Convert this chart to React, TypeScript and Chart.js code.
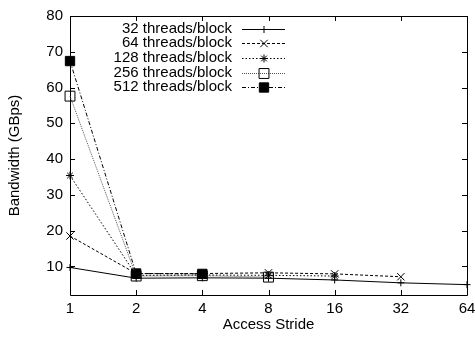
import React, { useEffect, useRef } from "react";
import { Chart, registerables } from "chart.js";

Chart.register(...registerables);

const strides = ["1", "2", "4", "8", "16", "32", "64"];
const t32 = [9.7, 6.7, 6.8, 6.7, 6.2, 5.4, 4.9];
const t64 = [18.5, 8.0, 8.0, 8.2, 7.9, 7.1, null];
const t128 = [35.4, 7.5, 7.6, 7.5, 7.3, null, null];
const t256 = [57.6, 7.3, 7.4, 7.0, null, null, null];
const t512 = [67.4, 8.0, 7.9, null, null, null, null];
const seriesLabels = [
  "32 threads/block",
  "64 threads/block",
  "128 threads/block",
  "256 threads/block",
  "512 threads/block",
];
const yTicks = [10, 20, 30, 40, 50, 60, 70, 80];
const yMin = 2;
const yMax = 80;

const FONT = "Liberation Sans, Arial, sans-serif";

const styles = [
  { dash: [], color: "#000", point: "cross", r: 3.5, fill: "#000" },
  { dash: [3, 2], color: "#000", point: "crossRot", r: 5.2, fill: "#000" },
  { dash: [1.5, 2], color: "#000", point: "star", r: 4, fill: "#000" },
  { dash: [1, 1], color: "#555", point: "rect", r: 7, fill: "rgba(0,0,0,0)" },
  { dash: [4, 2, 1, 2], color: "#000", point: "rect", r: 6.6, fill: "#000" },
];

function drawMarker(ctx: CanvasRenderingContext2D, kind: string, x: number, y: number, r: number, fill: string) {
  ctx.save();
  ctx.setLineDash([]);
  ctx.strokeStyle = "#000";
  ctx.lineWidth = 1;
  ctx.beginPath();
  if (kind === "cross") {
    ctx.moveTo(x - r, y); ctx.lineTo(x + r, y);
    ctx.moveTo(x, y - r); ctx.lineTo(x, y + r);
    ctx.stroke();
  } else if (kind === "crossRot") {
    const d = r * Math.SQRT1_2;
    ctx.moveTo(x - d, y - d); ctx.lineTo(x + d, y + d);
    ctx.moveTo(x - d, y + d); ctx.lineTo(x + d, y - d);
    ctx.stroke();
  } else if (kind === "star") {
    const d = r * Math.SQRT1_2;
    ctx.moveTo(x - r, y); ctx.lineTo(x + r, y);
    ctx.moveTo(x, y - r); ctx.lineTo(x, y + r);
    ctx.moveTo(x - d, y - d); ctx.lineTo(x + d, y + d);
    ctx.moveTo(x - d, y + d); ctx.lineTo(x + d, y - d);
    ctx.stroke();
  } else {
    const s = r * Math.SQRT1_2;
    ctx.rect(x - s, y - s, 2 * s, 2 * s);
    ctx.fillStyle = fill;
    ctx.fill();
    ctx.stroke();
  }
  ctx.restore();
}

const framePlugin = {
  id: "frameTicks",
  beforeDatasetsDraw(chart: any) {
    const { ctx, chartArea } = chart;
    const { left, right, top, bottom } = chartArea;
    const xs = chart.scales.x;
    const ys = chart.scales.y;
    const L = 5;
    ctx.save();
    ctx.strokeStyle = "#000";
    ctx.lineWidth = 1;
    ctx.setLineDash([]);
    ctx.beginPath();
    ctx.rect(Math.round(left) + 0.5, Math.round(top) + 0.5, Math.round(right - left), Math.round(bottom - top));
    ctx.stroke();
    ctx.beginPath();
    strides.forEach((_, i) => {
      const px = Math.round(xs.getPixelForValue(i)) + 0.5;
      ctx.moveTo(px, bottom); ctx.lineTo(px, bottom - L);
      ctx.moveTo(px, top); ctx.lineTo(px, top + L);
    });
    yTicks.forEach((v) => {
      const py = Math.round(ys.getPixelForValue(v)) + 0.5;
      ctx.moveTo(left, py); ctx.lineTo(left + L, py);
      ctx.moveTo(right, py); ctx.lineTo(right - L, py);
    });
    ctx.stroke();
    ctx.restore();
  },
};

const legendPlugin = {
  id: "gnuLegend",
  afterDraw(chart: any) {
    const { ctx } = chart;
    const textRight = 232;
    const x0 = 242;
    const x1 = 285;
    const xm = 264;
    const y0 = 28.5;
    const dy = 14.7;
    ctx.save();
    ctx.font = `15px ${FONT}`;
    ctx.fillStyle = "#000";
    ctx.textAlign = "right";
    ctx.textBaseline = "middle";
    seriesLabels.forEach((lab, i) => {
      const y = y0 + i * dy;
      const st = styles[i];
      ctx.fillText(lab, textRight, y);
      ctx.save();
      ctx.strokeStyle = st.color;
      ctx.lineWidth = 1;
      ctx.setLineDash(st.dash);
      ctx.beginPath();
      ctx.moveTo(x0, Math.round(y) + 0.5);
      ctx.lineTo(x1, Math.round(y) + 0.5);
      ctx.stroke();
      ctx.restore();
      drawMarker(ctx, st.point, xm, Math.round(y) + 0.5, st.r, st.fill);
    });
    ctx.restore();
  },
};

export default function App() {
  const ref = useRef<HTMLCanvasElement | null>(null);
  useEffect(() => {
    document.body.style.margin = "0";
    const canvas = ref.current;
    if (!canvas) return;
    const all = [t32, t64, t128, t256, t512];
    const chart = new Chart(canvas, {
      type: "line",
      data: {
        labels: strides,
        datasets: all.map((d, i) => ({
          label: seriesLabels[i],
          data: d,
          borderColor: styles[i].color,
          borderWidth: 1,
          borderDash: styles[i].dash,
          pointStyle: styles[i].point as any,
          pointRadius: styles[i].r,
          pointBorderColor: "#000",
          pointBorderWidth: 1,
          pointBackgroundColor: styles[i].fill,
          fill: false,
          tension: 0,
          spanGaps: false,
        })),
      },
      options: {
        animation: false,
        responsive: false,
        devicePixelRatio: 1,
        layout: { padding: { left: 0, right: 7, top: 16, bottom: 0 } },
        plugins: { legend: { display: false }, tooltip: { enabled: false } },
        scales: {
          x: {
            type: "category",
            offset: false,
            grid: { display: false, drawTicks: false },
            border: { display: false },
            ticks: {
              color: "#000",
              font: { family: FONT, size: 15 },
              padding: 5,
              maxRotation: 0,
              autoSkip: false,
            },
            title: {
              display: true,
              text: "Access Stride",
              color: "#000",
              font: { family: FONT, size: 15 },
              padding: { top: 0, bottom: 5 },
            },
            afterFit(scale: any) {
              scale.height = 44;
              scale.paddingRight = 0;
              scale.paddingLeft = 0;
            },
          },
          y: {
            type: "linear",
            min: yMin,
            max: yMax,
            grid: { display: false, drawTicks: false },
            border: { display: false },
            afterBuildTicks(scale: any) {
              scale.ticks = yTicks.map((v) => ({ value: v }));
            },
            ticks: {
              color: "#000",
              font: { family: FONT, size: 15 },
              padding: 7,
            },
            title: {
              display: true,
              text: "Bandwidth (GBps)",
              color: "#000",
              font: { family: FONT, size: 15 },
              padding: { top: 6, bottom: 0 },
            },
            afterFit(scale: any) {
              scale.width = 70;
              scale.paddingTop = 0;
              scale.paddingBottom = 0;
            },
          },
        },
      },
      plugins: [framePlugin, legendPlugin],
    } as any);
    return () => chart.destroy();
  }, []);
  return <canvas ref={ref} width={475} height={339} style={{ display: "block" }} />;
}
